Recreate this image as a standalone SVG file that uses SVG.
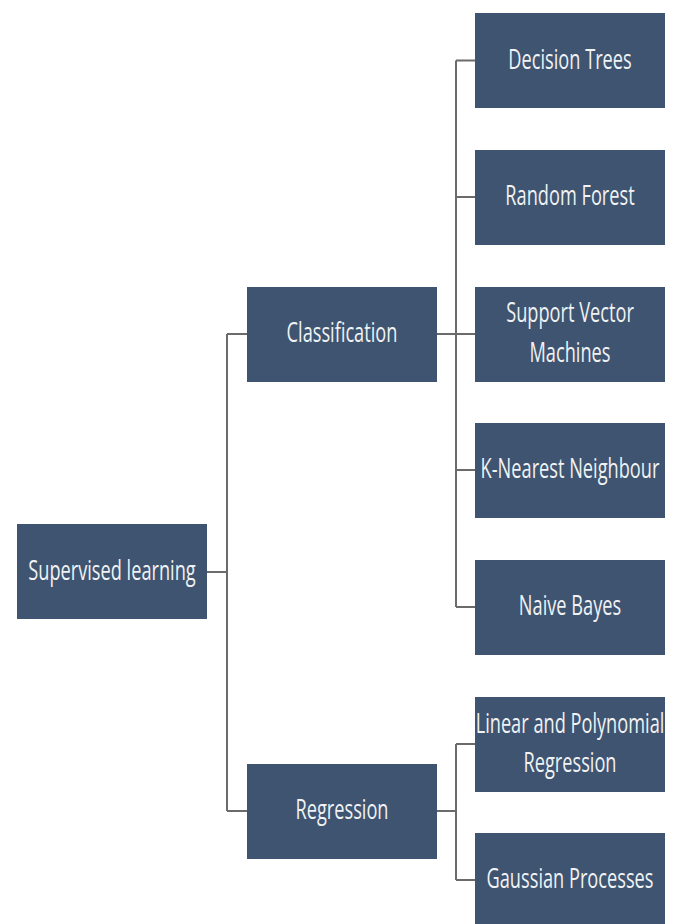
<svg xmlns="http://www.w3.org/2000/svg" width="680" height="924" viewBox="0 0 680 924">
<style>
.box{fill:#3e5470;}
.lbl{font-family:"Open Sans","Liberation Sans",sans-serif;font-size:28px;fill:#f0f2f4;text-anchor:middle;}
.con{fill:none;stroke:#6b6b6b;stroke-width:2;}
</style>
<rect width="680" height="924" fill="#ffffff"/>
<g id="connectors">
<path class="con" d="M207,572 H227 M227,334 V811 M227,334 H247 M227,811 H247"/>
<path class="con" d="M437,334 H475 M456,60.5 V607 M456,60.5 H475 M456,197 H475 M456,470 H475 M456,607 H475"/>
<path class="con" d="M437,811 H456 M456,744 V880 M456,744 H475 M456,880 H475"/>
</g>
<g id="supervised">
<rect class="box" x="17" y="524" width="190" height="95"/>
<text class="lbl" transform="translate(112,580) scale(0.65,1)">Supervised learning</text>
</g>
<g id="classification">
<rect class="box" x="247" y="287" width="190" height="95"/>
<text class="lbl" transform="translate(342,342) scale(0.65,1)">Classification</text>
</g>
<g id="regression">
<rect class="box" x="247" y="764" width="190" height="95"/>
<text class="lbl" transform="translate(342,819) scale(0.65,1)">Regression</text>
</g>
<g id="decision-trees">
<rect class="box" x="475" y="13" width="190" height="95"/>
<text class="lbl" transform="translate(570,68.5) scale(0.65,1)">Decision Trees</text>
</g>
<g id="random-forest">
<rect class="box" x="475" y="150" width="190" height="95"/>
<text class="lbl" transform="translate(570,205) scale(0.65,1)">Random Forest</text>
</g>
<g id="svm">
<rect class="box" x="475" y="287" width="190" height="95"/>
<text class="lbl" transform="translate(570,322) scale(0.65,1)">Support Vector</text>
<text class="lbl" transform="translate(570,362) scale(0.65,1)">Machines</text>
</g>
<g id="knn">
<rect class="box" x="475" y="423" width="190" height="95"/>
<text class="lbl" transform="translate(570,478) scale(0.65,1)">K-Nearest Neighbour</text>
</g>
<g id="naive-bayes">
<rect class="box" x="475" y="560" width="190" height="95"/>
<text class="lbl" transform="translate(570,615) scale(0.65,1)">Naive Bayes</text>
</g>
<g id="linear-poly">
<rect class="box" x="475" y="697" width="190" height="95"/>
<text class="lbl" transform="translate(570,733) scale(0.65,1)">Linear and Polynomial</text>
<text class="lbl" transform="translate(570,772) scale(0.65,1)">Regression</text>
</g>
<g id="gaussian">
<rect class="box" x="475" y="833" width="190" height="95"/>
<text class="lbl" transform="translate(570,888) scale(0.65,1)">Gaussian Processes</text>
</g>
</svg>
